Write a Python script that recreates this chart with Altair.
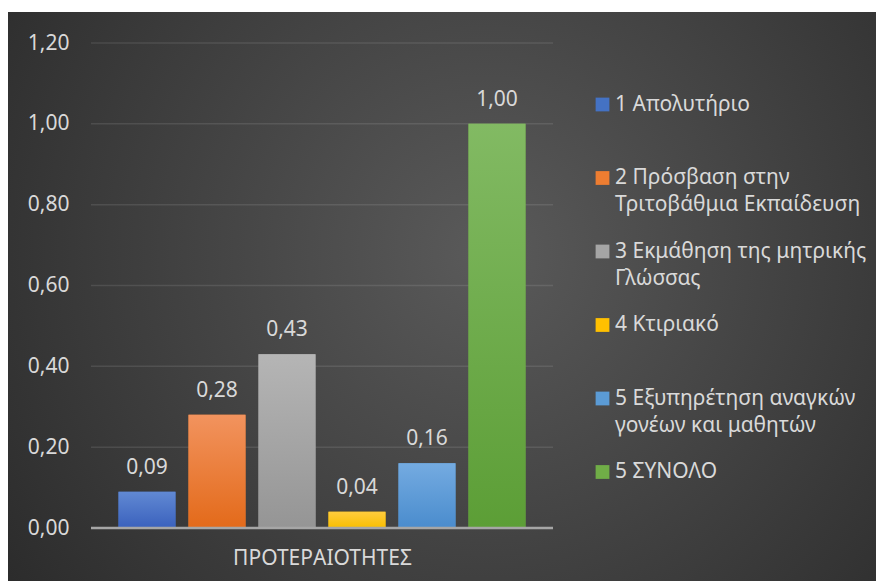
import altair as alt
import pandas as pd

# ---- data ----
series = [
    "1 Απολυτήριο",
    "2 Πρόσβαση στην\nΤριτοβάθμια Εκπαίδευση",
    "3 Εκμάθηση της μητρικής\nΓλώσσας",
    "4 Κτιριακό",
    "5 Εξυπηρέτηση αναγκών\nγονέων και μαθητών",
    "5 ΣΥΝΟΛΟ",
]
values = [0.09, 0.28, 0.43, 0.04, 0.16, 1.00]
category_title = "ΠΡΟΤΕΡΑΙΟΤΗΤΕΣ"
y_ticks = [0.0, 0.2, 0.4, 0.6, 0.8, 1.0, 1.2]
grid_values = [0.2, 0.4, 0.6, 0.8, 1.0, 1.2]

# ---- styles ----
solid_colors = ["#4472c4", "#ed7d31", "#a5a5a5", "#ffc000", "#5b9bd5", "#70ad47"]
top_colors = ["#6189d3", "#f2935e", "#b5b5b5", "#ffcc3d", "#74abe1", "#82ba63"]
bottom_colors = ["#3a61bd", "#e36a1a", "#959595", "#f9be00", "#4a8ccd", "#5c9e36"]
text_color = "#d9d9d9"
font = "Noto Sans"

df = pd.DataFrame({"series": series, "value": values})
df["label"] = [f"{v:.2f}".replace(".", ",") for v in values]

yscale = alt.Scale(domain=[0, 1.2], nice=False, zero=True)
yaxis = alt.Axis(
    values=y_ticks,
    labelExpr="replace(format(datum.value, '.2f'), '.', ',')",
    grid=False, ticks=False, domain=False, zindex=1,
    labelPadding=22, labelFontSize=21, labelColor=text_color, labelFont=font,
    title=None,
)
X = alt.X(
    "series:N", sort=series,
    scale=alt.Scale(paddingInner=0.186, paddingOuter=0.393),
    axis=alt.Axis(labels=False, ticks=False, domain=False, grid=False, zindex=1,
                  title=category_title, titleFont=font, titleFontSize=21,
                  titleFontWeight="normal", titleColor=text_color, titlePadding=19),
)
Y = alt.Y("value:Q", scale=yscale, axis=yaxis)

bg_gradient = {
    "gradient": "radial",
    "x1": 0.55, "y1": 0.45, "r1": 0,
    "x2": 0.55, "y2": 0.45, "r2": 0.75,
    "stops": [
        {"offset": 0, "color": "#5a5a5a"},
        {"offset": 1, "color": "#262626"},
    ],
}

bg = alt.Chart(alt.Data(values=[{"k": 0}])).mark_rect(color=bg_gradient).encode(
    x=alt.value(-83), x2=alt.value(785), y=alt.value(-31), y2=alt.value(538)
)

grid = alt.Chart(pd.DataFrame({"value": grid_values})).mark_rule(
    color="white", opacity=0.1, strokeWidth=1.5
).encode(y=Y)

base = alt.Chart(df)

bars_solid = base.mark_bar().encode(
    x=X, y=Y,
    color=alt.Color(
        "series:N",
        scale=alt.Scale(domain=series, range=solid_colors),
        legend=alt.Legend(
            title=None, orient="none", legendX=501, legendY=51,
            direction="vertical", gridAlign="all", rowPadding=24.5,
            symbolType="square", symbolSize=190, symbolStrokeWidth=0,
            labelFont=font, labelFontSize=21, labelColor=text_color,
            labelLimit=400, labelOffset=2,
            labelExpr="split(datum.label, '\\n')",
        ),
    ),
)

grad_layers = []
for s, tc, bc in zip(series, top_colors, bottom_colors):
    grad = {
        "gradient": "linear", "x1": 0, "y1": 0, "x2": 0, "y2": 1,
        "stops": [{"offset": 0, "color": tc}, {"offset": 1, "color": bc}],
    }
    grad_layers.append(
        base.transform_filter(alt.datum.series == s).mark_bar(color=grad).encode(x=X, y=Y)
    )

labels = base.mark_text(
    baseline="alphabetic", dy=-18, fontSize=21, color=text_color, font=font
).encode(x=X, y=Y, text="label:N")

zero = alt.Chart(pd.DataFrame({"value": [0.0]})).mark_rule(
    color="#a6a6a6", strokeWidth=2.5
).encode(y=Y)

chart = alt.layer(bg, grid, bars_solid, *grad_layers, zero, labels).properties(
    width=462, height=485,
    autosize=alt.AutoSizeParams(type="none"),
    padding={"left": 91, "top": 43, "right": 323, "bottom": 53},
    background="white",
).configure_view(stroke=None).configure(
    style={"guide-label": {"lineHeight": 27}}
)

chart.save("out.html", embed_options={"renderer": "svg", "actions": False})
